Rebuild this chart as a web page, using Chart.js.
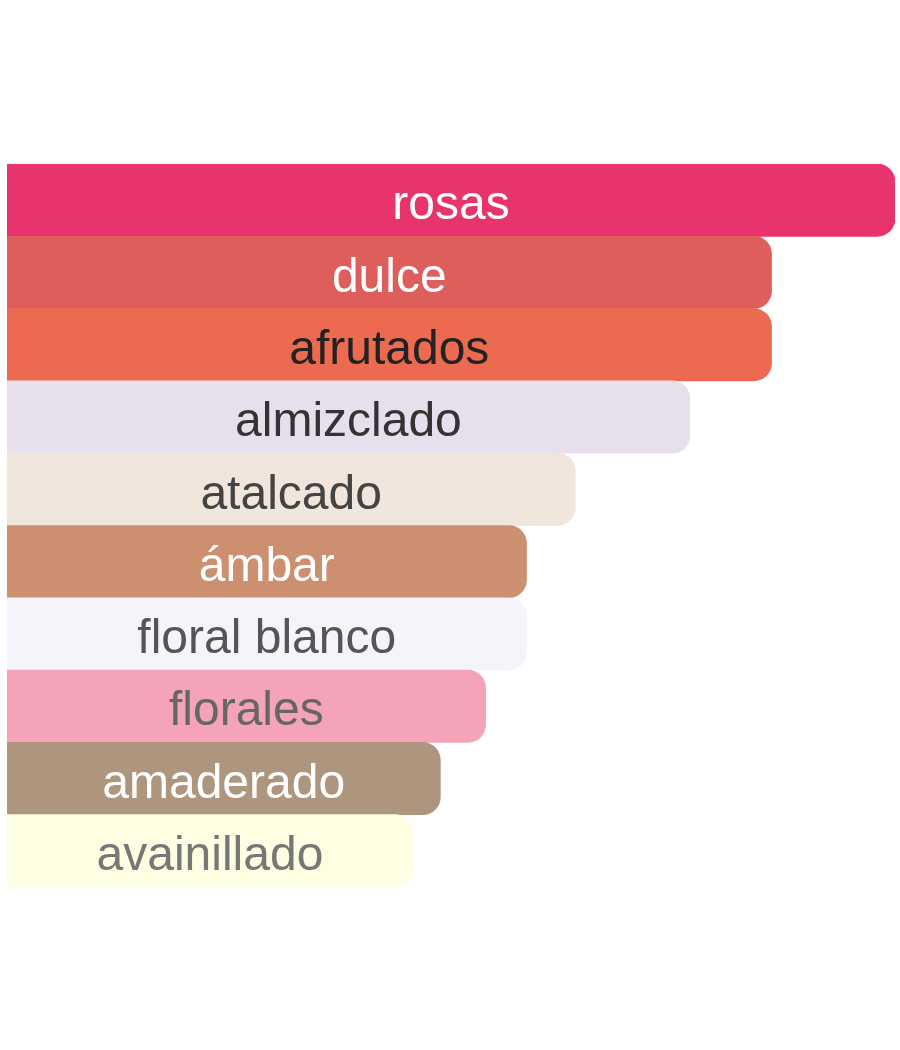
<!DOCTYPE html>
<html>
<head>
<meta charset="utf-8">
<script src="https://cdn.jsdelivr.net/npm/chart.js@4.4.0/dist/chart.umd.min.js"></script>
<style>
  html, body { margin: 0; padding: 0; background: #fff; }
  #wrap { width: 900px; height: 1050px; }
</style>
</head>
<body>
<div id="wrap"><canvas id="chart"></canvas></div>
<script>
const labels = ["rosas", "dulce", "afrutados", "almizclado", "atalcado", "ámbar", "floral blanco", "florales", "amaderado", "avainillado"];
const values = [100, 86.1, 86.1, 76.9, 64.0, 58.5, 58.5, 53.9, 48.8, 45.7];
const barColors = ["#E8336C", "#DD5E5B", "#EC6B50", "#E7DFEC", "#F0E6DB", "#CC8F70", "#F4F5FA", "#F4A3B8", "#AE967E", "#FEFEE2"];
const textColors = ["#ffffff", "#ffffff", "#222222", "#333333", "#444444", "#ffffff", "#555555", "#666666", "#ffffff", "#777777"];

// labels centred inside each bar
const barText = {
    id: "barText",
    afterDatasetsDraw(chart){
        const ctx = chart.ctx;
        const meta = chart.getDatasetMeta(0);
        ctx.save();
        ctx.font = "48px 'Liberation Sans', Arial, sans-serif";
        ctx.textAlign = "center";
        ctx.textBaseline = "middle";
        meta.data.forEach((bar, i) => {
            const cx = (bar.base + bar.x) / 2;
            ctx.fillStyle = textColors[i];
            ctx.fillText(labels[i], cx, bar.y + 6);
        });
        ctx.restore();
    }
};

new Chart(document.getElementById("chart"), {
    type: "bar",
    data: {
        labels: labels,
        datasets: [{
            data: values,
            backgroundColor: barColors,
            borderWidth: 0,
            borderSkipped: false,
            borderRadius: {topLeft: 0, bottomLeft: 0, topRight: 18, bottomRight: 18},
            categoryPercentage: 1,
            barPercentage: 1
        }]
    },
    options: {
        indexAxis: "y",
        responsive: true,
        maintainAspectRatio: false,
        animation: false,
        layout: {
            padding: {top: 164, bottom: 163, left: 7, right: 5}
        },
        plugins: {
            legend: {display: false},
            tooltip: {enabled: false}
        },
        scales: {
            x: {display: false, min: 0, max: 100},
            y: {display: false}
        }
    },
    plugins: [barText]
});
</script>
</body>
</html>
